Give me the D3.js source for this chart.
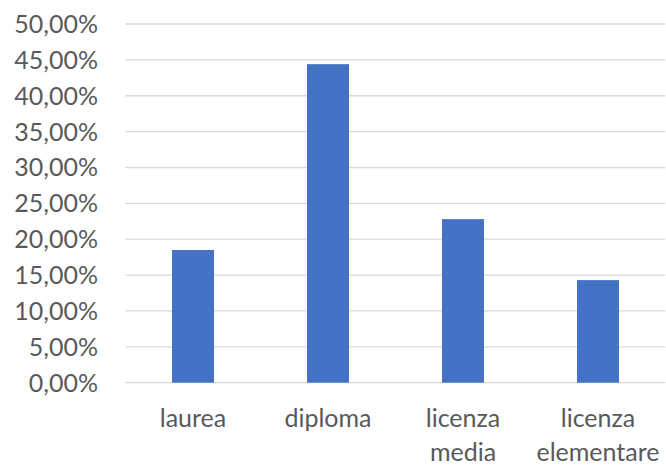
<!DOCTYPE html>
<html>
<head>
<meta charset="utf-8">
<script src="https://cdn.jsdelivr.net/npm/d3@7"></script>
<style>
  body { margin: 0; background: #fff; }
  text { font-family: Lato, "Open Sans", sans-serif; fill: #595959; }
</style>
</head>
<body>
<svg id="chart" width="666" height="465"></svg>
<script>
// education level shares (percent)
var categories = ["laurea", "diploma", "licenza media", "licenza elementare"];
var values = [18.5, 44.4, 22.8, 14.3];
var yTicks = [0, 5, 10, 15, 20, 25, 30, 35, 40, 45, 50];

var svg = d3.select("#chart");
var plotLeft = 125.5, plotRight = 665.5, plotTop = 24, plotBottom = 382.7;

var x = d3.scaleBand()
    .domain(categories)
    .range([plotLeft, plotRight])
    .paddingInner(0.689)
    .paddingOuter(0.3445);

var y = d3.scaleLinear()
    .domain([0, 50])
    .range([plotBottom, plotTop]);

var fmt = function(v) { return v.toFixed(2).replace(".", ",") + "%"; };

// gridlines
svg.append("g")
    .selectAll("line")
    .data(yTicks)
    .join("line")
    .attr("x1", plotLeft)
    .attr("x2", plotRight)
    .attr("y1", function(d) { return y(d); })
    .attr("y2", function(d) { return y(d); })
    .attr("stroke", "#d9d9d9")
    .attr("stroke-width", 1.3);

// y labels
svg.append("g")
    .selectAll("text")
    .data(yTicks)
    .join("text")
    .attr("x", 98)
    .attr("y", function(d) { return y(d); })
    .attr("dy", "0.36em")
    .attr("text-anchor", "end")
    .style("font-size", "25px")
    .text(fmt);

// bars
svg.append("g")
    .selectAll("rect")
    .data(values)
    .join("rect")
    .attr("x", function(d, i) { return x(categories[i]); })
    .attr("width", x.bandwidth())
    .attr("y", function(d) { return y(d); })
    .attr("height", function(d) { return y(0) - y(d); })
    .attr("fill", "#4472c4");

// category labels, wrapped on spaces
svg.append("g")
    .selectAll("text")
    .data(categories)
    .join("text")
    .attr("text-anchor", "middle")
    .style("font-size", "25px")
    .each(function(d) {
        var words = d.split(" ");
        var t = d3.select(this);
        words.forEach(function(w, k) {
            t.append("tspan")
                .attr("x", x(d) + x.bandwidth() / 2)
                .attr("y", 426.5 + k * 34)
                .text(w);
        });
    });
</script>
</body>
</html>
